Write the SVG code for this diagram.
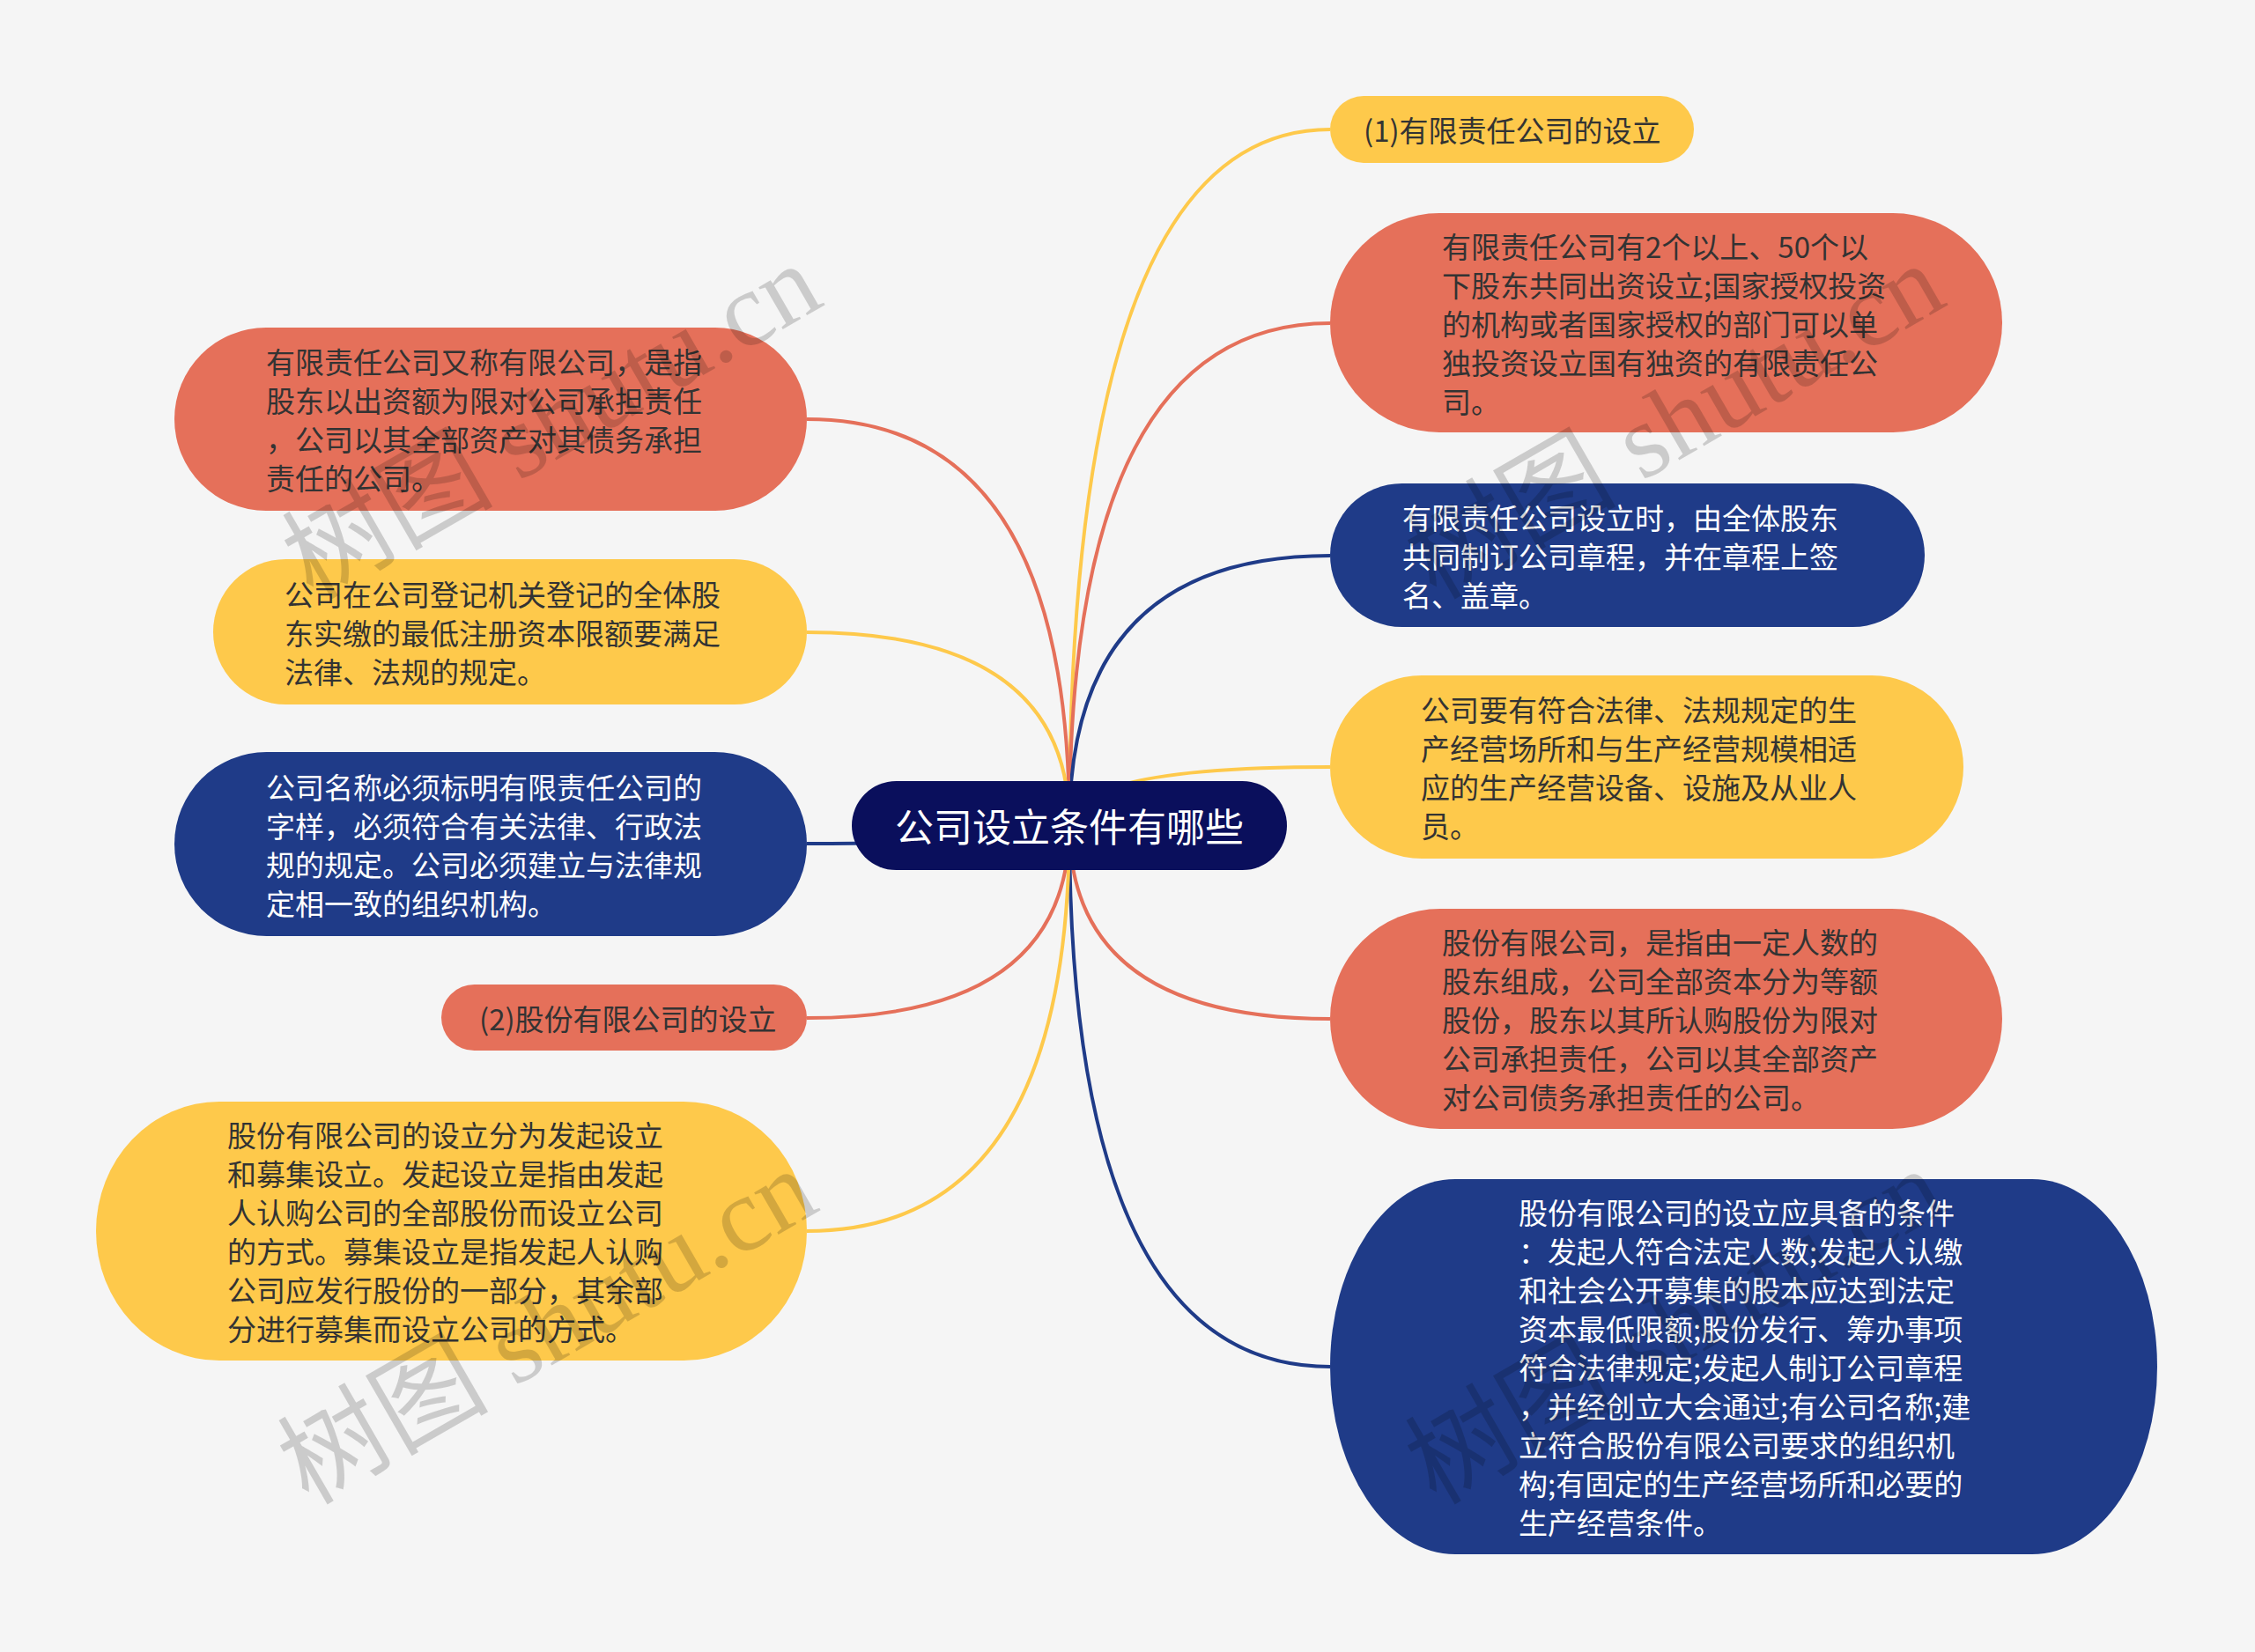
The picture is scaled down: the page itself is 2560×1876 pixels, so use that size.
<svg xmlns="http://www.w3.org/2000/svg" width="2560" height="1876" viewBox="0 0 2560 1876">
<style>
.bg{fill:#f5f5f5}
.red{fill:#e5705a}
.yel{fill:#fec94b}
.navy{fill:#1f3b88}
.root{fill:#0a0f5c}
.c{fill:none;stroke-width:4}
.cr{stroke:#e5705a}
.cy{stroke:#fec94b}
.cn{stroke:#1f3b88}
text{font-family:"Noto Sans CJK SC","Noto Sans",sans-serif;dominant-baseline:central}
.t{font-size:33px;fill:#333333}
.tw{font-size:33px;fill:#ffffff}
.rt{font-size:44px;fill:#ffffff}
.wm{font-family:"Liberation Serif","Noto Sans CJK SC",serif;font-size:120px;fill:#000000;fill-opacity:0.17;dominant-baseline:alphabetic}
</style>
<rect class="bg" x="0" y="0" width="2560" height="1876"/>
<g id="connectors">
<path class="c cy" d="M1214 937 Q1214 147 1510 147"/>
<path class="c cr" d="M1214 937 Q1214 367 1510 367"/>
<path class="c cn" d="M1214 937 Q1214 631 1510 631"/>
<path class="c cy" d="M1214 937 Q1214 871 1510 871"/>
<path class="c cr" d="M1214 937 Q1214 1157 1510 1157"/>
<path class="c cn" d="M1214 937 Q1214 1552 1510 1552"/>
<path class="c cr" d="M1214 937 Q1214 476 916 476"/>
<path class="c cy" d="M1214 937 Q1214 718 916 718"/>
<path class="c cn" d="M1214 937 Q1214 958 916 958"/>
<path class="c cr" d="M1214 937 Q1214 1156 916 1156"/>
<path class="c cy" d="M1214 937 Q1214 1398 916 1398"/>
</g>
<g id="root">
<rect class="root" x="967" y="887" width="494" height="101" rx="50.5" ry="50.5"/>
<text class="rt" x="1214" y="937" text-anchor="middle">公司设立条件有哪些</text>
</g>
<g id="n1">
<rect class="yel" x="1510" y="109" width="413" height="76" rx="38" ry="38"/>
<text class="t" x="1548" y="147">(1)有限责任公司的设立</text>
</g>
<g id="n2">
<rect class="red" x="1510" y="242" width="763" height="249" rx="124" ry="124.5"/>
<text class="t" x="1637" y="279">有限责任公司有2个以上、50个以</text>
<text class="t" x="1637" y="323">下股东共同出资设立;国家授权投资</text>
<text class="t" x="1637" y="367">的机构或者国家授权的部门可以单</text>
<text class="t" x="1637" y="411">独投资设立国有独资的有限责任公</text>
<text class="t" x="1637" y="455">司。</text>
</g>
<g id="n3">
<rect class="navy" x="1510" y="549" width="675" height="163" rx="81.5" ry="81.5"/>
<text class="tw" x="1592" y="587">有限责任公司设立时，由全体股东</text>
<text class="tw" x="1592" y="631">共同制订公司章程，并在章程上签</text>
<text class="tw" x="1592" y="675">名、盖章。</text>
</g>
<g id="n4">
<rect class="yel" x="1510" y="767" width="719" height="208" rx="104" ry="104"/>
<text class="t" x="1613" y="805">公司要有符合法律、法规规定的生</text>
<text class="t" x="1613" y="849">产经营场所和与生产经营规模相适</text>
<text class="t" x="1613" y="893">应的生产经营设备、设施及从业人</text>
<text class="t" x="1613" y="937">员。</text>
</g>
<g id="n5">
<rect class="red" x="1510" y="1032" width="763" height="250" rx="125" ry="125"/>
<text class="t" x="1637" y="1069">股份有限公司，是指由一定人数的</text>
<text class="t" x="1637" y="1113">股东组成，公司全部资本分为等额</text>
<text class="t" x="1637" y="1157">股份，股东以其所认购股份为限对</text>
<text class="t" x="1637" y="1201">公司承担责任，公司以其全部资产</text>
<text class="t" x="1637" y="1245">对公司债务承担责任的公司。</text>
</g>
<g id="n6">
<rect class="navy" x="1510" y="1339" width="939" height="426" rx="142" ry="213"/>
<text class="tw" x="1724" y="1376">股份有限公司的设立应具备的条件</text>
<text class="tw" x="1724" y="1420">：发起人符合法定人数;发起人认缴</text>
<text class="tw" x="1724" y="1464">和社会公开募集的股本应达到法定</text>
<text class="tw" x="1724" y="1508">资本最低限额;股份发行、筹办事项</text>
<text class="tw" x="1724" y="1552">符合法律规定;发起人制订公司章程</text>
<text class="tw" x="1724" y="1596">，并经创立大会通过;有公司名称;建</text>
<text class="tw" x="1724" y="1640">立符合股份有限公司要求的组织机</text>
<text class="tw" x="1724" y="1684">构;有固定的生产经营场所和必要的</text>
<text class="tw" x="1724" y="1728">生产经营条件。</text>
</g>
<g id="n7">
<rect class="red" x="198" y="372" width="718" height="208" rx="104" ry="104"/>
<text class="t" x="302" y="410">有限责任公司又称有限公司，是指</text>
<text class="t" x="302" y="454">股东以出资额为限对公司承担责任</text>
<text class="t" x="302" y="498">，公司以其全部资产对其债务承担</text>
<text class="t" x="302" y="542">责任的公司。</text>
</g>
<g id="n8">
<rect class="yel" x="242" y="635" width="674" height="165" rx="82.5" ry="82.5"/>
<text class="t" x="323" y="674">公司在公司登记机关登记的全体股</text>
<text class="t" x="323" y="718">东实缴的最低注册资本限额要满足</text>
<text class="t" x="323" y="762">法律、法规的规定。</text>
</g>
<g id="n9">
<rect class="navy" x="198" y="854" width="718" height="209" rx="104.5" ry="104.5"/>
<text class="tw" x="302" y="893">公司名称必须标明有限责任公司的</text>
<text class="tw" x="302" y="937">字样，必须符合有关法律、行政法</text>
<text class="tw" x="302" y="981">规的规定。公司必须建立与法律规</text>
<text class="tw" x="302" y="1025">定相一致的组织机构。</text>
</g>
<g id="n10">
<rect class="red" x="501" y="1118" width="415" height="75" rx="37.5" ry="37.5"/>
<text class="t" x="544" y="1156">(2)股份有限公司的设立</text>
</g>
<g id="n11">
<rect class="yel" x="109" y="1251" width="807" height="294" rx="140" ry="147"/>
<text class="t" x="258" y="1288">股份有限公司的设立分为发起设立</text>
<text class="t" x="258" y="1332">和募集设立。发起设立是指由发起</text>
<text class="t" x="258" y="1376">人认购公司的全部股份而设立公司</text>
<text class="t" x="258" y="1420">的方式。募集设立是指发起人认购</text>
<text class="t" x="258" y="1464">公司应发行股份的一部分，其余部</text>
<text class="t" x="258" y="1508">分进行募集而设立公司的方式。</text>
</g>
<g id="watermarks">
<text class="wm" transform="translate(355 682) rotate(-30)">树图 shutu.cn</text>
<text class="wm" transform="translate(350 1710) rotate(-30)">树图 shutu.cn</text>
<text class="wm" transform="translate(1630 682) rotate(-30)">树图 shutu.cn</text>
<text class="wm" transform="translate(1630 1710) rotate(-30)">树图 shutu.cn</text>
</g>
</svg>
